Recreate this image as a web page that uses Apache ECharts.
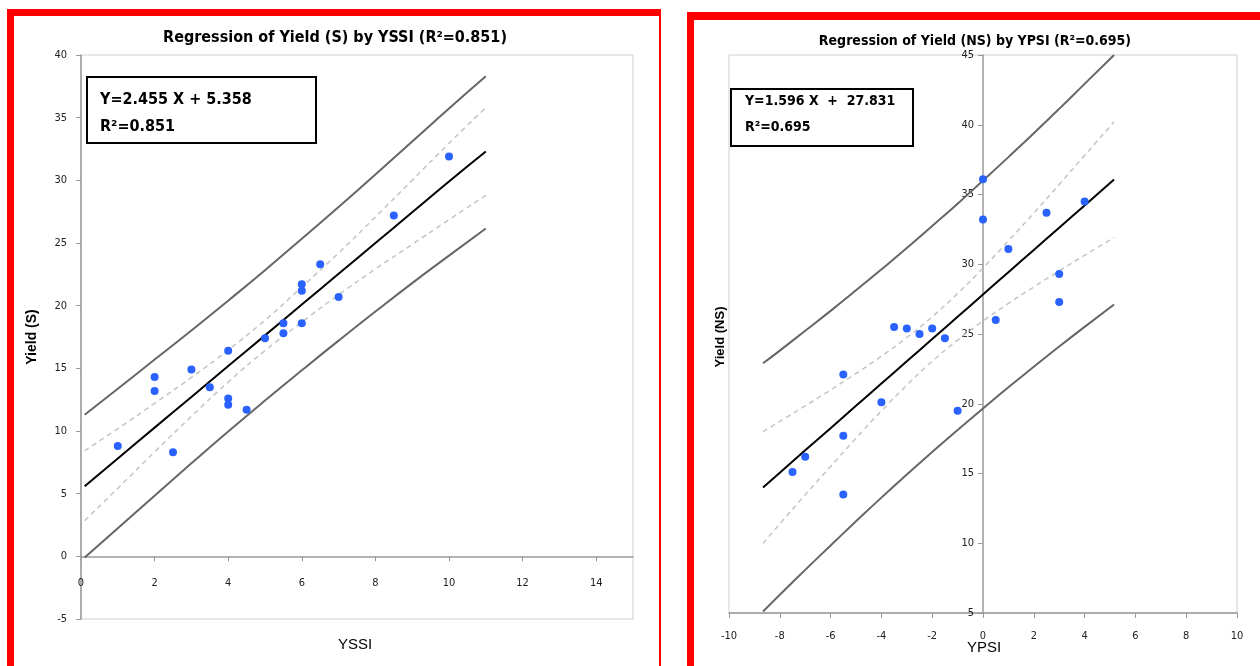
<!DOCTYPE html>
<html>
<head>
<meta charset="utf-8">
<script src="https://cdn.jsdelivr.net/npm/echarts@6/dist/echarts.min.js"></script>
<style>
html,body{margin:0;padding:0;background:#fff;}
#chart{width:1260px;height:666px;}
</style>
</head>
<body>
<div id="chart"></div>
<script>
// ---- Left chart: Yield (S) vs YSSI ----
const sPoints = [
  [10, 31.9], [8.5, 27.2], [6.5, 23.3], [6, 21.7], [6, 21.2], [7, 20.7],
  [5.5, 18.6], [6, 18.6], [5.5, 17.8], [5, 17.4], [4, 16.4], [3, 14.9],
  [2, 14.3], [2, 13.2], [3.5, 13.5], [4, 12.6], [4, 12.1], [4.5, 11.7],
  [1, 8.8], [2.5, 8.3]
];
const sBandX   = [0.1, 1, 2, 3, 4, 5, 6, 7, 8, 9, 10, 11];
const sFit     = [5.6, 7.81, 10.27, 12.72, 15.18, 17.63, 20.09, 22.54, 25.0, 27.45, 29.91, 32.3];
const sCiUpper = [8.43, 10.19, 12.21, 14.27, 16.46, 18.84, 21.49, 24.21, 27.08, 30.01, 32.96, 35.8];
const sCiLower = [2.85, 5.43, 8.33, 11.17, 13.90, 16.42, 18.69, 20.87, 22.92, 24.89, 26.86, 28.8];
const sPiUpper = [11.3, 13.37, 15.70, 18.02, 20.40, 22.83, 25.34, 27.87, 30.47, 33.10, 35.73, 38.3];
const sPiLower = [-0.1, 2.25, 4.84, 7.42, 9.96, 12.43, 14.84, 17.21, 19.53, 21.80, 23.99, 26.16];

// ---- Right chart: Yield (NS) vs YPSI ----
const nsPoints = [
  [0, 36.1], [0, 33.2], [2.5, 33.7], [4, 34.5], [1, 31.1], [3, 29.3],
  [3, 27.3], [0.5, 26.0], [-3.5, 25.5], [-3, 25.4], [-2.5, 25.0], [-2, 25.4],
  [-1.5, 24.7], [-5.5, 22.1], [-4, 20.1], [-1, 19.5], [-5.5, 17.7], [-7, 16.2],
  [-7.5, 15.1], [-5.5, 13.5]
];
const nsBandX   = [-8.66, -8, -7, -6, -5, -4, -3, -2, -1, 0, 1, 2, 3, 4, 5.16];
const nsFit     = [14.0, 15.06, 16.66, 18.25, 19.85, 21.45, 23.04, 24.64, 26.23, 27.83, 29.43, 31.02, 32.62, 34.22, 36.07];
const nsCiUpper = [18.0, 18.73, 19.85, 20.99, 22.17, 23.41, 24.75, 26.24, 27.9, 29.73, 31.67, 33.67, 35.72, 37.8, 40.2];
const nsCiLower = [10.0, 11.39, 13.47, 15.51, 17.53, 19.49, 21.33, 23.04, 24.56, 25.93, 27.19, 28.37, 29.52, 30.64, 31.92];
const nsPiUpper = [22.9, 23.81, 25.23, 26.66, 28.13, 29.63, 31.16, 32.74, 34.34, 36.0, 37.68, 39.39, 41.14, 42.93, 45.0];
const nsPiLower = [5.11, 6.31, 8.09, 9.84, 11.57, 13.27, 14.92, 16.54, 18.12, 19.66, 21.18, 22.65, 24.1, 25.51, 27.11];

const titles = ['Regression of Yield (S) by YSSI (R²=0.851)', 'Regression of Yield (NS) by YPSI (R²=0.695)'];
const eqLines = [['Y=2.455 X + 5.358', 'R²=0.851'], ['Y=1.596 X  +  27.831', 'R²=0.695']];
const xNames = ['YSSI', 'YPSI'];
const yNames = ['Yield (S)', 'Yield (NS)'];

const zip = (xs, ys) => xs.map((x, i) => [x, ys[i]]);
const NARROW = "'Liberation Sans Narrow', 'DejaVu Sans Condensed', 'Liberation Sans', sans-serif";
const SANS = "'Liberation Sans', Arial, sans-serif";
const BLUE = '#2a62ff';
const RED = '#ff0000';

function lineSeries(idx, xs, ys, color, width, type) {
  return {
    type: 'line', xAxisIndex: idx, yAxisIndex: idx, data: zip(xs, ys),
    showSymbol: false, smooth: true, silent: true, z: 2,
    lineStyle: { color: color, width: width, type: type || 'solid' }
  };
}

const axisLabelStyle = { color: '#222', fontFamily: NARROW, fontSize: 11 };

const chart = echarts.init(document.getElementById('chart'), null, { renderer: 'canvas' });
chart.setOption({
  backgroundColor: '#ffffff',
  animation: false,
  grid: [
    { left: 81, top: 55, width: 552, height: 564, show: true, borderColor: '#cfcfcf', borderWidth: 1, backgroundColor: 'transparent' },
    { left: 729, top: 55, width: 508, height: 558, show: true, borderColor: '#cfcfcf', borderWidth: 1, backgroundColor: 'transparent' }
  ],
  xAxis: [
    { type: 'value', gridIndex: 0, min: 0, max: 15, interval: 2,
      axisLine: { onZero: true, lineStyle: { color: '#999', width: 1.5 } },
      axisTick: { show: true, length: 5, lineStyle: { color: '#999' } },
      axisLabel: Object.assign({ margin: -41, showMaxLabel: false }, axisLabelStyle),
      splitLine: { show: false } },
    { type: 'value', gridIndex: 1, min: -10, max: 10, interval: 2,
      axisLine: { onZero: false, lineStyle: { color: '#999', width: 1.5 } },
      axisTick: { show: true, length: 5, lineStyle: { color: '#999' } },
      axisLabel: Object.assign({ margin: 18 }, axisLabelStyle),
      splitLine: { show: false } }
  ],
  yAxis: [
    { type: 'value', gridIndex: 0, min: -5, max: 40, interval: 5,
      axisLine: { show: true, lineStyle: { color: '#999', width: 1.5 } },
      axisTick: { show: true, length: 5, lineStyle: { color: '#999' } },
      axisLabel: Object.assign({ margin: 14 }, axisLabelStyle),
      splitLine: { show: false } },
    { type: 'value', gridIndex: 1, min: 5, max: 45, interval: 5,
      axisLine: { show: true, onZero: true, lineStyle: { color: '#999', width: 1.5 } },
      axisTick: { show: true, length: 5, lineStyle: { color: '#999' } },
      axisLabel: Object.assign({ margin: -245 }, axisLabelStyle),
      splitLine: { show: false } }
  ],
  series: [
    lineSeries(0, sBandX, sPiUpper, '#666666', 2),
    lineSeries(0, sBandX, sPiLower, '#666666', 2),
    lineSeries(0, sBandX, sCiUpper, '#c4c4c4', 1.5, [5, 4]),
    lineSeries(0, sBandX, sCiLower, '#c4c4c4', 1.5, [5, 4]),
    lineSeries(0, sBandX, sFit, '#000000', 2),
    { type: 'scatter', xAxisIndex: 0, yAxisIndex: 0, data: sPoints, symbolSize: 8, z: 5,
      itemStyle: { color: BLUE, opacity: 1 } },
    lineSeries(1, nsBandX, nsPiUpper, '#666666', 2),
    lineSeries(1, nsBandX, nsPiLower, '#666666', 2),
    lineSeries(1, nsBandX, nsCiUpper, '#c4c4c4', 1.5, [5, 4]),
    lineSeries(1, nsBandX, nsCiLower, '#c4c4c4', 1.5, [5, 4]),
    lineSeries(1, nsBandX, nsFit, '#000000', 2),
    { type: 'scatter', xAxisIndex: 1, yAxisIndex: 1, data: nsPoints, symbolSize: 8, z: 5,
      itemStyle: { color: BLUE, opacity: 1 } }
  ],
  graphic: [
    // red frames (left panel)
    { type: 'rect', shape: { x: 7, y: 9, width: 7, height: 660 }, style: { fill: RED }, z: 100 },
    { type: 'rect', shape: { x: 7, y: 9, width: 654, height: 7 }, style: { fill: RED }, z: 100 },
    { type: 'rect', shape: { x: 659, y: 9, width: 2, height: 660 }, style: { fill: RED }, z: 100 },
    // red frames (right panel)
    { type: 'rect', shape: { x: 687, y: 12, width: 7, height: 660 }, style: { fill: RED }, z: 100 },
    { type: 'rect', shape: { x: 687, y: 12, width: 580, height: 8 }, style: { fill: RED }, z: 100 },
    // titles
    { type: 'text', x: 335, y: 38, style: { text: titles[0], fill: '#000', font: "bold 16px " + NARROW, textAlign: 'center', textVerticalAlign: 'middle' }, z: 100 },
    { type: 'text', x: 975, y: 41, style: { text: titles[1], fill: '#000', font: "bold 14px " + NARROW, textAlign: 'center', textVerticalAlign: 'middle' }, z: 100 },
    // equation boxes
    { type: 'rect', shape: { x: 87, y: 77, width: 229, height: 66 }, style: { fill: '#fff', stroke: '#000', lineWidth: 2 }, z: 90 },
    { type: 'text', x: 100, y: 100, style: { text: eqLines[0][0], fill: '#000', font: "bold 16px " + NARROW, textVerticalAlign: 'middle' }, z: 91 },
    { type: 'text', x: 100, y: 127, style: { text: eqLines[0][1], fill: '#000', font: "bold 16px " + NARROW, textVerticalAlign: 'middle' }, z: 91 },
    { type: 'rect', shape: { x: 731, y: 89, width: 182, height: 57 }, style: { fill: '#fff', stroke: '#000', lineWidth: 2 }, z: 90 },
    { type: 'text', x: 745, y: 101, style: { text: eqLines[1][0], fill: '#000', font: "bold 14px " + NARROW, textVerticalAlign: 'middle' }, z: 91 },
    { type: 'text', x: 745, y: 127, style: { text: eqLines[1][1], fill: '#000', font: "bold 14px " + NARROW, textVerticalAlign: 'middle' }, z: 91 },
    // axis names
    { type: 'text', x: 355, y: 645, style: { text: xNames[0], fill: '#000', font: "15px " + SANS, textAlign: 'center', textVerticalAlign: 'middle' }, z: 100 },
    { type: 'text', x: 984, y: 648, style: { text: xNames[1], fill: '#000', font: "15px " + SANS, textAlign: 'center', textVerticalAlign: 'middle' }, z: 100 },
    { type: 'text', x: 32, y: 337, rotation: Math.PI / 2, style: { text: yNames[0], fill: '#000', font: "bold 14px " + SANS, textAlign: 'center', textVerticalAlign: 'middle' }, z: 100 },
    { type: 'text', x: 720, y: 337, rotation: Math.PI / 2, style: { text: yNames[1], fill: '#000', font: "bold 13px " + SANS, textAlign: 'center', textVerticalAlign: 'middle' }, z: 100 }
  ]
});
</script>
</body>
</html>
